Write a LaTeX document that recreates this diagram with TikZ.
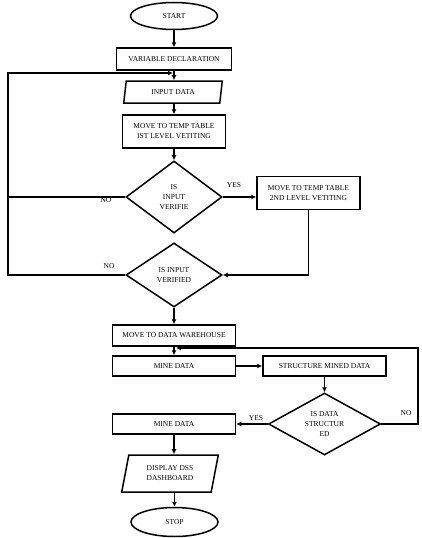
\documentclass[tikz,border=0pt]{standalone}
\usepackage{fontspec}
\setmainfont{Liberation Serif}
\usetikzlibrary{shapes.geometric,arrows.meta}
\begin{document}
\begin{tikzpicture}[x=1pt,y=-1pt,
  every node/.style={font=\fontsize{7.5}{10}\selectfont, align=center, inner sep=0pt},
  term/.style={draw, ellipse, line width=1.5pt, minimum width=87pt, minimum height=27pt},
  proc/.style={draw, rectangle, line width=1.5pt, minimum height=22pt},
  io/.style={draw, trapezium, trapezium left angle=77, trapezium right angle=103, trapezium stretches=true, line width=1.5pt},
  dec/.style={draw, diamond, line width=1.5pt},
  ln/.style={line width=1.5pt},
  conn/.style={line width=1.5pt, -{Latex[length=5pt,width=5pt]}},
  lbl/.style={font=\fontsize{7.5}{9}\selectfont}
]
\useasboundingbox (0,0) rectangle (422,538);
\node[term] (start) at (174,16) {START};
\node[proc, minimum width=115pt] (var) at (174,59) {VARIABLE DECLARATION};
\node[io, minimum width=99pt, minimum height=22pt] (in) at (173,92) {INPUT DATA};
\node[proc, minimum width=103pt, minimum height=33pt] (mv1) at (174,131.5) {MOVE TO TEMP TABLE\\IST LEVEL VETITING};
\node[dec, minimum width=96pt, minimum height=72pt, aspect=1.33] (d1) at (174,197) {IS\\INPUT\\VERIFIE};
\node[proc, minimum width=103pt, minimum height=33pt] (mv2) at (308.5,193) {MOVE TO TEMP TABLE\\2ND LEVEL VETITING};
\node[dec, minimum width=96pt, minimum height=64pt, aspect=1.5] (d2) at (174,275) {IS INPUT\\VERIFIED};
\node[proc, minimum width=123pt, minimum height=21pt] (dw) at (174,335.5) {MOVE TO DATA WAREHOUSE};
\node[proc, minimum width=123pt, minimum height=20pt] (mine1) at (174,366) {MINE DATA};
\node[proc, minimum width=123pt, minimum height=20pt] (smd) at (324.5,366) {STRUCTURE MINED DATA};
\node[dec, minimum width=112pt, minimum height=62pt, aspect=1.8] (d3) at (324.5,424) {IS DATA\\STRUCTUR\\ED};
\node[proc, minimum width=123pt, minimum height=20pt] (mine2) at (174,424) {MINE DATA};
\node[io, minimum width=97pt, minimum height=37pt, trapezium left angle=75, trapezium right angle=105] (disp) at (170,473.5) {DISPLAY DSS\\DASHBOARD};
\node[term, minimum height=29pt] (stop) at (174.5,522) {STOP};

\coordinate (L0) at (8,73);
\coordinate (jn) at (173,73);
\coordinate (R0) at (418,348);
\coordinate (jn2) at (176,348);

\draw[conn] (start) -- (var);
\draw[conn] (var.south) -- (var.south |- in.north);
\draw[conn] (in.south -| mv1.north) -- (mv1.north);
\draw[conn] (mv1) -- (d1);
\draw[conn] (d1.east) -- (d1.east -| mv2.west);
\draw[ln] (d1.west) -- (d1.west -| L0);
\draw[conn] (d2.west) -| (L0) -- (jn);
\draw[conn] (mv2.south) |- (d2.east);
\draw[conn] (d2) -- (dw);
\draw[conn] (dw) -- (mine1);
\draw[conn] (mine1) -- (smd);
\draw[conn] (smd) -- (d3);
\draw[conn] (d3) -- (mine2);
\draw[conn] (d3.east) -| (R0) -- (jn2);
\draw[conn] (mine2.south) -- (mine2.south |- disp.north);
\draw[conn] (disp.south -| stop.north) -- (stop);

\node[lbl] (no1) at (106,200) {NO};
\node[lbl] (yes1) at (234,185) {YES};
\node[lbl] (no2) at (109,266) {NO};
\node[lbl] (yes2) at (256,418) {YES};
\node[lbl] (no3) at (406,413) {NO};
\end{tikzpicture}
\end{document}
